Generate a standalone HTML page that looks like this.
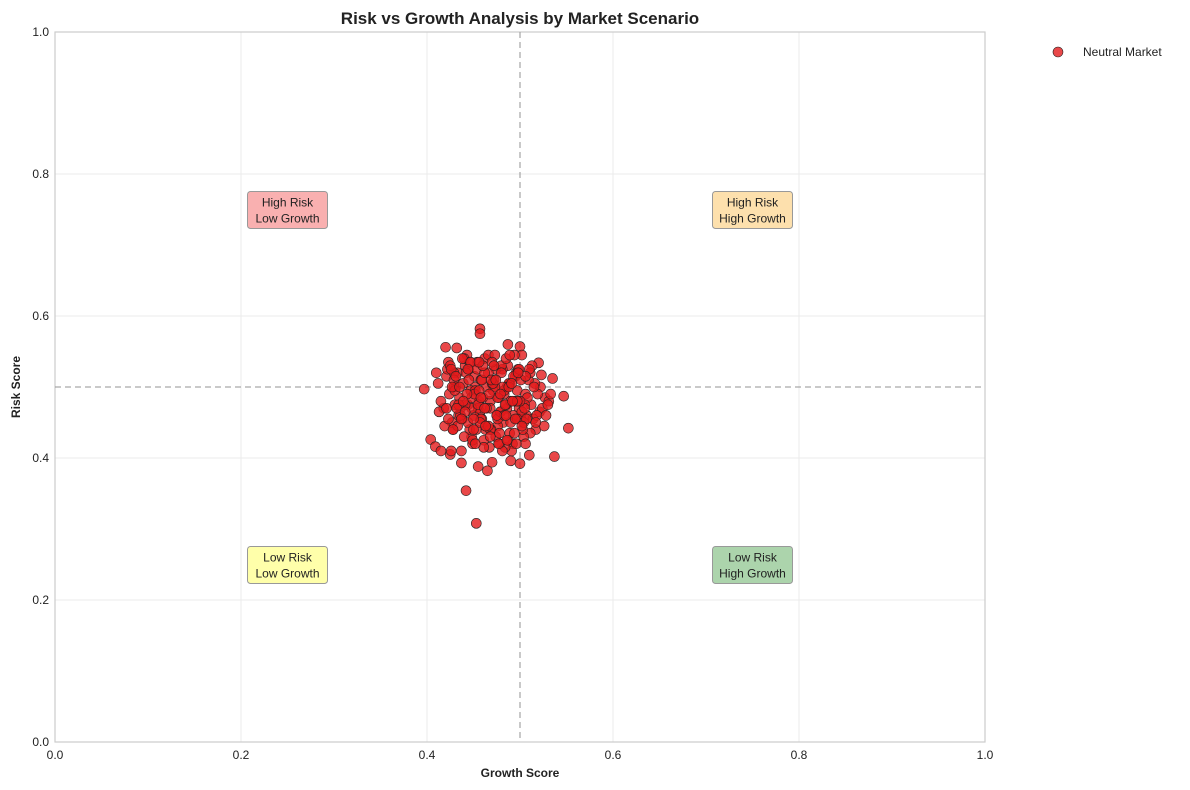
<!DOCTYPE html>
<html><head><meta charset="utf-8"><style>
body{margin:0;background:#fff;font-family:"Liberation Sans",Arial,sans-serif}
svg{display:block}
</style></head><body>
<svg id="chart" width="1190" height="790" xmlns="http://www.w3.org/2000/svg" font-family="Liberation Sans, Arial, sans-serif"></svg>
<script>
const growth=[0.397,0.404,0.442,0.453,0.537,0.552,0.547,0.535,0.457,0.457,0.420,0.432,0.487,0.500,0.520,0.523,0.409,0.415,0.425,0.437,0.465,0.470,0.500,0.510,0.490,0.455,
0.412,0.418,0.423,0.428,0.433,0.438,0.443,0.448,0.452,0.457,0.462,0.467,0.472,0.477,0.482,0.487,0.492,0.497,0.502,0.507,0.512,0.517,0.522,0.527,
0.415,0.421,0.427,0.431,0.436,0.441,0.446,0.451,0.456,0.461,0.466,0.471,0.476,0.481,0.486,0.491,0.496,0.501,0.506,0.511,0.516,0.521,0.526,0.531,
0.419,0.424,0.429,0.434,0.439,0.444,0.449,0.454,0.459,0.464,0.469,0.474,0.479,0.484,0.489,0.494,0.499,0.504,0.509,0.514,0.519,0.524,
0.413,0.426,0.435,0.445,0.450,0.458,0.463,0.468,0.473,0.478,0.483,0.488,0.493,0.498,0.503,0.508,0.513,0.518,0.528,0.533,
0.430,0.440,0.447,0.455,0.460,0.470,0.475,0.480,0.485,0.490,0.495,0.505,0.515,
0.422,0.437,0.444,0.452,0.466,0.474,0.486,0.494,0.502,0.511,0.429,0.458,0.481,0.497,0.448,0.463,0.476,0.489,0.441,0.454,0.468,0.483,0.506,0.517,0.410,0.530,
0.425,0.430,0.436,0.442,0.448,0.453,0.459,0.464,0.470,0.476,0.481,0.487,0.493,0.498,0.504,0.510,
0.423,0.429,0.434,0.440,0.446,0.451,0.457,0.462,0.468,0.473,0.479,0.485,0.490,0.496,0.501,0.507,
0.427,0.432,0.438,0.443,0.449,0.455,0.460,0.466,0.471,0.477,0.483,0.488,0.494,0.499,0.505,
0.421,0.426,0.433,0.439,0.445,0.450,0.456,0.461,0.467,0.472,0.478,0.484,0.489,0.495,0.500,0.506,
0.428,0.435,0.441,0.447,0.452,0.458,0.463,0.469,0.475,0.480,0.486,0.491,0.497,0.502,
0.431,0.437,0.444,0.450,0.456,0.462,0.468,0.474,0.479,0.485,0.492,0.498];
const risk=[0.497,0.426,0.354,0.308,0.402,0.442,0.487,0.512,0.582,0.575,0.556,0.555,0.560,0.557,0.534,0.517,0.416,0.410,0.405,0.393,0.382,0.394,0.392,0.404,0.396,0.388,
0.505,0.470,0.535,0.440,0.520,0.455,0.545,0.430,0.500,0.465,0.540,0.415,0.510,0.485,0.450,0.530,0.420,0.495,0.545,0.460,0.475,0.440,0.500,0.485,
0.480,0.515,0.450,0.500,0.470,0.530,0.440,0.515,0.480,0.425,0.545,0.495,0.445,0.525,0.470,0.410,0.520,0.455,0.490,0.435,0.505,0.465,0.445,0.480,
0.445,0.490,0.520,0.460,0.505,0.475,0.420,0.535,0.455,0.500,0.440,0.525,0.465,0.415,0.505,0.545,0.470,0.430,0.510,0.455,0.490,0.470,
0.465,0.410,0.485,0.525,0.460,0.510,0.440,0.480,0.545,0.420,0.490,0.505,0.460,0.525,0.440,0.485,0.530,0.460,0.460,0.490,
0.475,0.540,0.495,0.470,0.485,0.505,0.460,0.530,0.475,0.450,0.515,0.475,0.500,
0.525,0.410,0.450,0.495,0.520,0.430,0.500,0.480,0.465,0.520,0.500,0.455,0.410,0.455,0.470,0.445,0.485,0.435,0.475,0.525,0.470,0.495,0.420,0.450,0.520,0.475,
0.530,0.495,0.460,0.520,0.485,0.440,0.510,0.470,0.535,0.455,0.500,0.425,0.515,0.480,0.450,0.525,
0.455,0.510,0.475,0.430,0.535,0.490,0.450,0.520,0.440,0.500,0.465,0.540,0.480,0.420,0.510,0.455,
0.500,0.470,0.540,0.490,0.425,0.475,0.530,0.445,0.505,0.420,0.460,0.500,0.435,0.525,0.470,
0.470,0.525,0.445,0.480,0.510,0.455,0.495,0.415,0.490,0.530,0.435,0.475,0.545,0.455,0.480,0.515,
0.440,0.500,0.465,0.535,0.420,0.485,0.445,0.510,0.460,0.520,0.425,0.505,0.480,0.445,
0.515,0.455,0.525,0.440,0.535,0.470,0.430,0.510,0.490,0.460,0.480,0.520];
const xTicks=[0,0.2,0.4,0.6,0.8,1.0];
const yTicks=[0,0.2,0.4,0.6,0.8,1.0];
const quadLabels=[["High Risk","Low Growth",0.25,0.75,"#f9b0b0"],["High Risk","High Growth",0.75,0.75,"#fde0ad"],["Low Risk","Low Growth",0.25,0.25,"#ffffaa"],["Low Risk","High Growth",0.75,0.25,"#acd4ac"]];
const L=55,R=985,T=32,B=742;
const X=v=>L+v*(R-L), Y=v=>B-v*(B-T);
const svg=document.getElementById('chart');const NS="http://www.w3.org/2000/svg";
function mk(tag,attrs,parent){const e=document.createElementNS(NS,tag);for(const k in attrs)e.setAttribute(k,attrs[k]);(parent||svg).appendChild(e);return e;}
xTicks.forEach(t=>{const g=mk('line',{x1:X(t),x2:X(t),y1:T,y2:B,stroke:'#ebebeb'});


const tx=mk('text',{x:X(t),y:B+17,'text-anchor':'middle','font-size':12,fill:'#222'});tx.textContent=t.toFixed(1);

});
yTicks.forEach(t=>{const g=mk('line',{x1:L,x2:R,y1:Y(t),y2:Y(t),stroke:'#ebebeb'});


const tx=mk('text',{x:L-6,y:Y(t)+4,'text-anchor':'end','font-size':12,fill:'#222'});tx.textContent=t.toFixed(1);

});
const fr=mk('rect',{x:L,y:T,width:R-L,height:B-T,fill:'none',stroke:'#ccc','stroke-width':1.2});


const vl=mk('line',{x1:X(0.5),x2:X(0.5),y1:T,y2:B,stroke:'#999','stroke-width':1.5,'stroke-dasharray':'6,4',opacity:0.7});


const hl=mk('line',{x1:L,x2:R,y1:Y(0.5),y2:Y(0.5),stroke:'#999','stroke-width':1.5,'stroke-dasharray':'6,4',opacity:0.7});


growth.forEach((g,i)=>{const c=mk('circle',{cx:X(g),cy:Y(risk[i]),r:5,fill:'#e41a1c','fill-opacity':0.8,stroke:'#222','stroke-width':0.6});

});
quadLabels.forEach(q=>{const cx=X(q[2]),cy=Y(q[3]);
const gr=mk('g',{});


mk('rect',{x:cx-40,y:cy-18,width:80,height:37,rx:3,fill:q[4],stroke:'#999','stroke-width':1},gr);
const t1=mk('text',{x:cx,y:cy-3,'text-anchor':'middle','font-size':12,fill:'#222'},gr);t1.textContent=q[0];
const t2=mk('text',{x:cx,y:cy+13,'text-anchor':'middle','font-size':12,fill:'#222'},gr);t2.textContent=q[1];});
const ti=mk('text',{x:520,y:24,'text-anchor':'middle','font-size':17,'font-weight':'bold',fill:'#222'});ti.textContent='Risk vs Growth Analysis by Market Scenario';


const xt=mk('text',{x:520,y:777,'text-anchor':'middle','font-size':12,'font-weight':'bold',fill:'#222'});xt.textContent='Growth Score';


const yt=mk('text',{x:20,y:387,'text-anchor':'middle','font-size':12,'font-weight':'bold',fill:'#222',transform:'rotate(-90 20 387)'});yt.textContent='Risk Score';


const lg=mk('g',{});


mk('circle',{cx:1058,cy:52,r:5,fill:'#e41a1c','fill-opacity':0.8,stroke:'#222','stroke-width':0.6},lg);
const lt=mk('text',{x:1083,y:56,'font-size':12,fill:'#222'},lg);lt.textContent='Neutral Market';
</script>
</body></html>
